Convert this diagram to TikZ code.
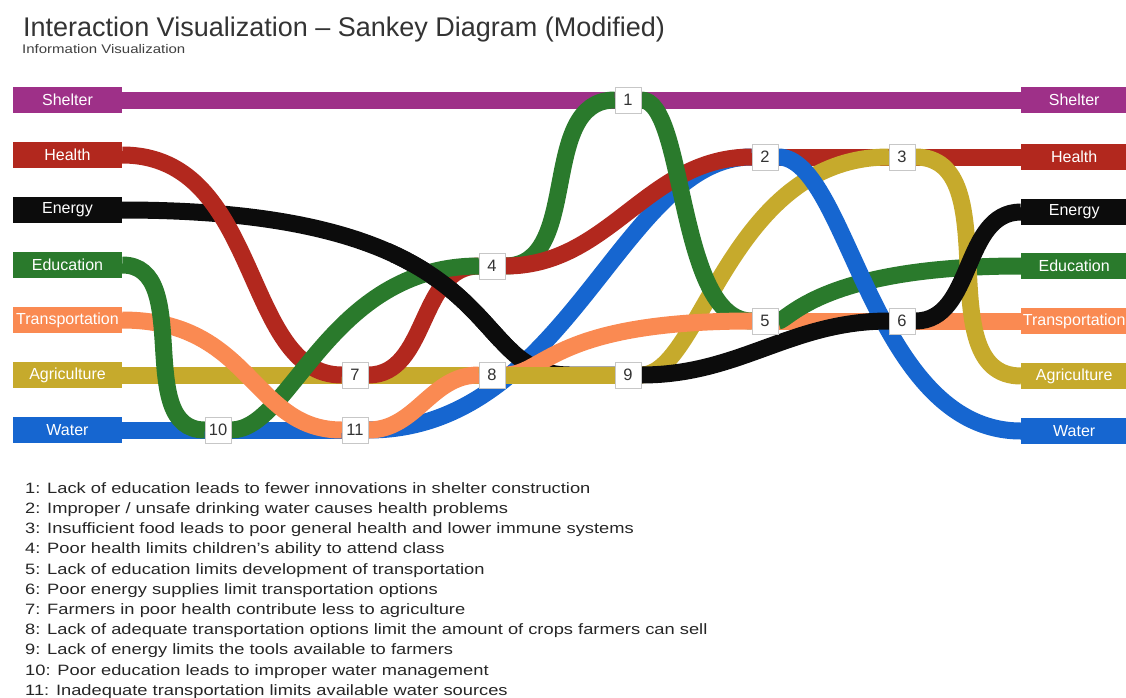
\documentclass[tikz,border=0pt]{standalone}
\usepackage{fontspec}
\setmainfont{Liberation Sans}
\usetikzlibrary{calc}
\pgfdeclarelayer{bands}
\pgfsetlayers{bands,main}

\definecolor{shelterc}{RGB}{158,48,136}
\definecolor{healthc}{RGB}{178,40,30}
\definecolor{energyc}{RGB}{12,12,12}
\definecolor{educationc}{RGB}{42,122,44}
\definecolor{transportc}{RGB}{250,138,82}
\definecolor{agric}{RGB}{198,170,44}
\definecolor{waterc}{RGB}{22,102,208}

\tikzset{
  band/.style={line width=17pt},
  lbl/.style={minimum width=109pt, minimum height=26pt, inner sep=0pt, text=white, font=\fontsize{16}{18}\selectfont},
  rlbl/.style={lbl, minimum width=106pt, anchor=west},
  num/.style={draw=black!22, fill=white, minimum size=26pt, inner sep=0pt, font=\fontsize{16.5}{18}\selectfont, text=black!80}
}

\begin{document}
\begin{tikzpicture}[x=1pt,y=-1pt]
		\useasboundingbox (0,0) rectangle (1126,697);
		%%%%% START %%%%%
		\node[anchor=base west, inner sep=0pt, font=\fontsize{27}{30}\selectfont, text=black!80] (title) at (23,36) {Interaction Visualization – Sankey Diagram (Modified)};
		\node[anchor=base west, inner sep=0pt, font=\fontsize{12.5}{14}\selectfont, text=black!75] (subtitle) at (22,53) {\scalebox{1.2}[1]{Information Visualization}};
		
		% categories, left
		\node[lbl, fill=shelterc] (Lshelter) at (67.5,100) {Shelter};
		\node[lbl, fill=healthc] (Lhealth) at (67.5,155) {Health};
		\node[lbl, fill=energyc] (Lenergy) at (67.5,210) {Energy};
		\node[lbl, fill=educationc] (Leducation) at (67.5,265) {Education};
		\node[lbl, fill=transportc] (Ltrans) at (67.5,320) {Transportation};
		\node[lbl, fill=agric] (Lagri) at (67.5,375) {Agriculture};
		\node[lbl, fill=waterc] (Lwater) at (67.5,430) {Water};
		
		% categories, right
		\node[rlbl, fill=shelterc] (Rshelter) at (1021,100) {Shelter};
		\node[rlbl, fill=healthc] (Rhealth) at (1021,157) {Health};
		\node[rlbl, fill=energyc] (Renergy) at (1021,212) {Energy};
		\node[rlbl, fill=educationc] (Reducation) at (1021,266) {Education};
		\node[rlbl, fill=transportc] (Rtrans) at (1021,321) {Transportation};
		\node[rlbl, fill=agric] (Ragri) at (1021,376) {Agriculture};
		\node[rlbl, fill=waterc] (Rwater) at (1021,431) {Water};
		
		% interactions
		\node[num] (n1) at (628,100) {1};
		\node[num] (n2) at (765,157) {2};
		\node[num] (n3) at (902,157) {3};
		\node[num] (n4) at (492,266) {4};
		\node[num] (n5) at (765,321) {5};
		\node[num] (n6) at (902,321) {6};
		\node[num] (n7) at (355,375) {7};
		\node[num] (n8) at (492,375) {8};
		\node[num] (n9) at (628,375) {9};
		\node[num] (n10) at (218,430) {10};
		\node[num] (n11) at (355,430) {11};
		
		\begin{pgfonlayer}{bands}
		\draw[band, shelterc] (Lshelter.east) -- (n1.west);
		\draw[band, shelterc] (n1.east) -- (Rshelter.west);
		
		\draw[band, waterc] (Lwater.east) -- (n10.west);
		\draw[band, waterc] (n10.east) -- (n11.west);
		\draw[band, waterc] (n11.east) .. controls +(200,0) and +(-130,0) .. (n2.west);
		
		\draw[band, energyc] (Lenergy.east) .. controls +(398,0) and +(-110,0) .. ($(n9.west)+(-45,0)$) -- (n9.west);
		
		\draw[band, agric] (Lagri.east) -- (n7.west);
		\draw[band, agric] (n7.east) -- (n8.west);
		
		\draw[band, healthc] (Lhealth.east) .. controls +(140,0) and +(-100,0) .. (n7.west);
		\draw[band, healthc] (n7.east) to[out=0, in=180] (n4.west);
		\draw[band, educationc] (n10.east) .. controls +(60,0) and +(-150,0) .. (n4.west);
		\draw[band, transportc] (Ltrans.east) .. controls +(130,0) and +(-90,0) .. (n11.west);
		\draw[band, educationc] (Leducation.east) to[out=0, in=180] (n10.west);
		
		% energy passes over the links into 4
		\begin{scope}
			\clip (390,225) rectangle (520,345);
			\draw[band, energyc] (Lenergy.east) .. controls +(398,0) and +(-110,0) .. ($(n9.west)+(-45,0)$);
		\end{scope}
		
		\draw[band, transportc] (n11.east) to[out=0, in=180] (n8.west);
		\draw[band, educationc] (n4.east) to[out=0, in=180] (n1.west);
		\draw[band, healthc] (n4.east) to[out=0, in=180] (n2.west);
		\draw[band, healthc] (n2.east) -- (n3.west);
		\draw[band, agric] (n9.east) .. controls +(60,0) and +(-160,0) .. (n3.west);
		\draw[band, educationc] (n1.east) .. controls +(45,0) and +(-75,0) .. (n5.west);
		\draw[band, transportc] (n8.east) .. controls +(40,0) and +(-200,0) .. (n5.west);
		\draw[band, agric] (n8.east) -- (n9.west);
		
		\draw[band, transportc] (n5.east) -- (n6.west);
		\draw[band, transportc] (n6.east) -- (Rtrans.west);
		\draw[band, healthc] (n3.east) -- (Rhealth.west);
		\draw[band, educationc] (n5.east) .. controls +(10,0) and +(-200,0) .. (Reducation.west);
		\draw[band, waterc] (n2.east) .. controls +(70,0) and +(-150,0) .. (Rwater.west);
		\draw[band, energyc] (n9.east) to[out=0, in=180] (n6.west);
		\draw[band, agric] (n3.east) to[out=0, in=180] (Ragri.west);
		\draw[band, energyc] (n6.east) to[out=0, in=180] (Renergy.west);
		\end{pgfonlayer}
		
		\node[anchor=north west, inner sep=0pt, font=\fontsize{15}{20.2}\selectfont, text=black!85] (notes) at (25,479) {\scalebox{1.22}[1]{\begin{tabular}{@{}l@{}}
			1: Lack of education leads to fewer innovations in shelter construction\\
			2: Improper / unsafe drinking water causes health problems\\
			3: Insufficient food leads to poor general health and lower immune systems\\
			4: Poor health limits children's ability to attend class\\
			5: Lack of education limits development of transportation\\
			6: Poor energy supplies limit transportation options\\
			7: Farmers in poor health contribute less to agriculture\\
			8: Lack of adequate transportation options limit the amount of crops farmers can sell\\
			9: Lack of energy limits the tools available to farmers\\
			10: Poor education leads to improper water management\\
			11: Inadequate transportation limits available water sources
		\end{tabular}}};
		%%%%% END %%%%%
	\end{tikzpicture}
\end{document}
